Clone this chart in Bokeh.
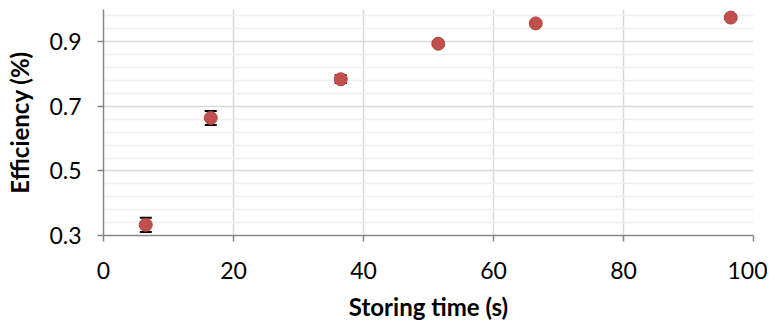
from bokeh.plotting import figure
from bokeh.models import ColumnDataSource, Whisker, FixedTicker, Range1d, TeeHead
from bokeh.embed import file_html
from bokeh.resources import INLINE

# data
storing_time = [6.5, 16.5, 36.5, 51.5, 66.5, 96.5]
efficiency = [0.333, 0.664, 0.784, 0.894, 0.957, 0.975]
error = [0.022, 0.022, 0.012, 0.005, 0.003, 0.003]
x_ticks = [0, 20, 40, 60, 80, 100]
y_ticks = [0.3, 0.5, 0.7, 0.9]
y_minor = [0.34, 0.38, 0.42, 0.46, 0.54, 0.58, 0.62, 0.66, 0.74, 0.78, 0.82, 0.86, 0.94, 0.98]

src = ColumnDataSource(dict(
    x=storing_time, y=efficiency,
    lo=[v - e for v, e in zip(efficiency, error)],
    hi=[v + e for v, e in zip(efficiency, error)],
))

FONT = "Lato"
p = figure(output_backend="svg", toolbar_location=None,
           frame_width=650, frame_height=226,
           min_border_left=103, min_border_top=9, min_border_bottom=79, min_border_right=14,
           x_range=Range1d(0, 100), y_range=Range1d(0.3, 1.0))
p.outline_line_color = None
p.background_fill_color = "white"

p.xaxis.ticker = FixedTicker(ticks=x_ticks)
p.yaxis.ticker = FixedTicker(ticks=y_ticks, minor_ticks=y_minor)
p.yaxis.formatter.use_scientific = False

for ax in (p.xaxis[0], p.yaxis[0]):
    ax.axis_line_color = "#868686"
    ax.axis_line_width = 1.5
    ax.major_tick_line_color = "#868686"
    ax.major_tick_line_width = 1.5
    ax.major_tick_in = 0
    ax.major_tick_out = 6
    ax.minor_tick_line_color = None
    ax.major_label_text_font = FONT
    ax.major_label_text_font_size = "23px"
    ax.major_label_text_color = "#000000"
    ax.axis_label_text_font = FONT
    ax.axis_label_text_font_style = "bold"
    ax.axis_label_text_color = "#000000"

p.xaxis.axis_label = "Storing time (s)"
p.yaxis.axis_label = "Efficiency (%)"
p.xaxis.axis_label_text_font_size = "24px"
p.yaxis.axis_label_text_font_size = "24px"
p.xaxis.major_label_standoff = 20
p.yaxis.major_label_standoff = 16
p.xaxis.axis_label_standoff = 10
p.yaxis.axis_label_standoff = 12

p.xgrid.ticker = FixedTicker(ticks=x_ticks)
p.xgrid.grid_line_color = "#d9d9d9"
p.xgrid.grid_line_width = 1.5
p.ygrid.grid_line_color = "#d9d9d9"
p.ygrid.grid_line_width = 1.5
p.ygrid.minor_grid_line_color = "#f0f0f0"
p.ygrid.minor_grid_line_width = 1.5

w = Whisker(source=src, base="x", upper="hi", lower="lo",
            line_color="black", line_width=1.5, level="underlay",
            upper_head=TeeHead(size=12, line_color="black", line_width=2),
            lower_head=TeeHead(size=12, line_color="black", line_width=2))
p.add_layout(w)

p.scatter("x", "y", source=src, size=13, fill_color="#c0504d", line_color="#b9433f", line_width=1)

open("out.html", "w").write(file_html(p, INLINE))
